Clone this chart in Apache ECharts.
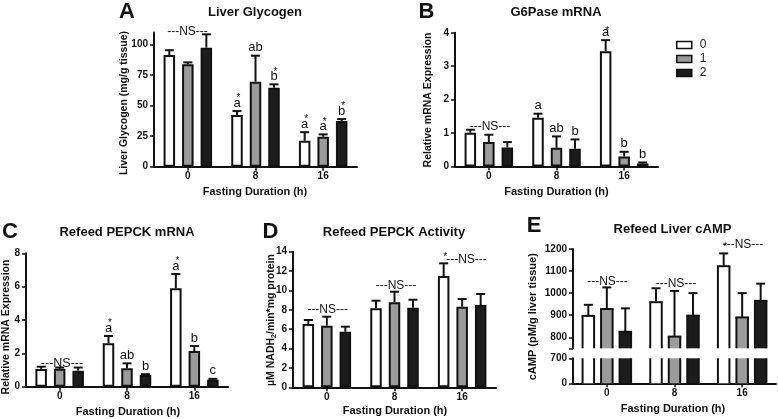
<!DOCTYPE html>
<html><head><meta charset="utf-8">
<script src="https://cdn.jsdelivr.net/npm/echarts@6/dist/echarts.min.js"></script>
<style>html,body{margin:0;padding:0;background:#fff}#c{width:778px;height:419px}</style>
</head><body><div id="c"></div>
<script>
// ---------- DATA ----------
const categories = ['0', '8', '16'];
const groupNames = ['0', '1', '2'];

// A: Liver Glycogen (mg/g tissue)
const glycMean0 = [91.5, 42.4, 21.3], glycErr0 = [4.0, 3.2, 7.0];
const glycMean1 = [83.9, 69.7, 24.6], glycErr1 = [1.6, 21.3, 1.9];
const glycMean2 = [97.5, 64.8, 37.5], glycErr2 = [11.0, 2.7, 1.5];
const glycLetters0 = ['', 'a', 'a'], glycLetters1 = ['', 'ab', 'a'], glycLetters2 = ['', 'b', 'b'];
const glycStars0 = [0, 1, 1], glycStars1 = [0, 0, 1], glycStars2 = [0, 1, 1];
const glycTicks = [0, 25, 50, 75, 100];

// B: G6Pase mRNA
const g6pMean0 = [1.01, 1.46, 3.45], g6pErr0 = [0.09, 0.12, 0.33];
const g6pMean1 = [0.73, 0.56, 0.30], g6pErr1 = [0.22, 0.34, 0.14];
const g6pMean2 = [0.57, 0.53, 0.09], g6pErr2 = [0.16, 0.28, 0.03];
const g6pLetters0 = ['', 'a', 'a'], g6pLetters1 = ['', 'ab', 'b'], g6pLetters2 = ['', 'b', 'b'];
const g6pStars0 = [0, 0, 1], g6pStars1 = [0, 0, 0], g6pStars2 = [0, 0, 0];
const g6pTicks = [0, 1, 2, 3, 4];

// C: Refeed PEPCK mRNA
const pepMean0 = [1.06, 2.60, 5.90], pepErr0 = [0.14, 0.44, 0.86];
const pepMean1 = [1.08, 1.10, 2.14], pepErr1 = [0.07, 0.30, 0.30];
const pepMean2 = [0.96, 0.70, 0.42], pepErr2 = [0.19, 0.05, 0.05];
const pepLetters0 = ['', 'a', 'a'], pepLetters1 = ['', 'ab', 'b'], pepLetters2 = ['', 'b', 'c'];
const pepStars0 = [0, 1, 1], pepStars1 = [0, 0, 0], pepStars2 = [0, 0, 0];
const pepTicks = [0, 2, 4, 6, 8];

// D: Refeed PEPCK Activity
const actMean0 = [6.53, 8.15, 11.49], actErr0 = [0.42, 0.79, 1.31];
const actMean1 = [6.36, 8.77, 8.32], actErr1 = [0.93, 1.10, 0.79];
const actMean2 = [5.74, 8.21, 8.49], actErr2 = [0.52, 0.83, 1.14];
const actStars0 = [0, 0, 1];
const actTicks = [0, 2, 4, 6, 8, 10, 12, 14];

// E: Refeed Liver cAMP
const campMean0 = [897, 959, 1122], campErr0 = [50, 63, 58];
const campMean1 = [928, 803, 890], campErr1 = [98, 207, 110];
const campMean2 = [825, 898, 965], campErr2 = [106, 102, 78];
const campStars0 = [0, 0, 1];
const campTicksUpper = [800, 900, 1000, 1100, 1200];
const campTicksLower = [0, 700];

// ---------- STYLE / LAYOUT ----------
const FONT = '"Liberation Sans", Arial, Helvetica, sans-serif';
const INK = '#111';
const FILLS = ['#ffffff', '#9b9b9b', '#1c1c1c'];
const BAR_W = 11.5, BAR_STEP = 18.5;

function gridBox(left, top, width, height) { return { left, top, width, height, containLabel: false }; }
const grids = [
  gridBox(154, 32.5, 203, 134.2),   // A
  gridBox(455, 32.8, 203, 133.7),   // B
  gridBox(26, 253.3, 202, 133.4),   // C
  gridBox(293, 251.7, 203, 135.6),  // D
  gridBox(573, 249, 203, 99.3),     // E upper
  gridBox(573, 358.3, 203, 25)      // E lower
];

function xAx(g, show) {
  return {
    type: 'category', gridIndex: g, data: categories, show: show !== false,
    axisLine: { show: true, lineStyle: { color: INK, width: 2 } },
    axisTick: { show: true, alignWithLabel: true, length: 4, lineStyle: { color: INK, width: 1.5 } },
    axisLabel: { fontFamily: FONT, fontSize: 10, fontWeight: 'bold', color: INK, margin: 5 },
    splitLine: { show: false }
  };
}
function yAx(g, min, max, labelVals, tickVals) {
  return {
    type: 'value', gridIndex: g, min, max,
    axisLine: { show: true, lineStyle: { color: INK, width: 2 } },
    axisTick: { show: true, length: 4, lineStyle: { color: INK, width: 1.5 }, customValues: tickVals || labelVals },
    axisLabel: { fontFamily: FONT, fontSize: 10, fontWeight: 'bold', color: INK, margin: 6, customValues: labelVals,
      formatter: v => String(v) },
    splitLine: { show: false }
  };
}

function barSeries(g, k, means) {
  return {
    type: 'bar', name: groupNames[k], xAxisIndex: g, yAxisIndex: g, data: means,
    barWidth: BAR_W, barGap: ((BAR_STEP - BAR_W) / BAR_W * 100).toFixed(1) + '%',
    itemStyle: { color: FILLS[k], borderColor: INK, borderWidth: 2 },
    emphasis: { disabled: true }, silent: true
  };
}

function errSeries(g, k, means, errs, letters, stars, starGap) {
  return {
    type: 'custom', xAxisIndex: g, yAxisIndex: g, z: 5, silent: true,
    data: means.map((m, i) => [i, m, errs[i]]),
    renderItem(params, api) {
      const i = api.value(0), m = api.value(1), e = api.value(2);
      const b = api.coord([i, m]), t = api.coord([i, m + e]);
      const x = b[0] + (k - 1) * BAR_STEP;
      const ch = [
        { type: 'line', shape: { x1: x, y1: b[1], x2: x, y2: t[1] }, style: { stroke: INK, lineWidth: 2 } },
        { type: 'line', shape: { x1: x - 4.5, y1: t[1], x2: x + 4.5, y2: t[1] }, style: { stroke: INK, lineWidth: 2 } }
      ];
      const L = letters ? letters[params.dataIndex] : '';
      const S = stars ? stars[params.dataIndex] : 0;
      const ly = t[1] - 1.5;
      if (L) ch.push({ type: 'text', x: x, y: ly, style: { text: L, font: '13px ' + FONT, fill: INK, align: 'center', verticalAlign: 'bottom' } });
      if (S) ch.push({ type: 'text', x: x + 1.5, y: L ? ly - starGap : t[1] - 1, style: { text: '*', font: '10px ' + FONT, fill: INK, align: 'center', verticalAlign: 'bottom' } });
      return { type: 'group', children: ch };
    }
  };
}

// bars for the broken axis panel: fill + side borders, clipped to each grid without a stroke at the cut
function brokenBarSeries(g, k, means) {
  return {
    type: 'custom', xAxisIndex: g, yAxisIndex: g, z: 3, silent: true,
    data: means.map((m, i) => [i, m]),
    renderItem(params, api) {
      const cs = params.coordSys;
      const i = api.value(0), v = api.value(1);
      const p0 = api.coord([i, 0]), p1 = api.coord([i, v]);
      const xc = p1[0] + (k - 1) * BAR_STEP, h = BAR_W / 2;
      const yTop = Math.max(p1[1], cs.y), yBot = Math.min(p0[1], cs.y + cs.height);
      if (yTop >= yBot) return null;
      const ch = [
        { type: 'rect', shape: { x: xc - h, y: yTop, width: BAR_W, height: yBot - yTop }, style: { fill: FILLS[k] } },
        { type: 'line', shape: { x1: xc - h, y1: yTop, x2: xc - h, y2: yBot }, style: { stroke: INK, lineWidth: 2 } },
        { type: 'line', shape: { x1: xc + h, y1: yTop, x2: xc + h, y2: yBot }, style: { stroke: INK, lineWidth: 2 } }
      ];
      if (p1[1] >= cs.y && p1[1] <= cs.y + cs.height) ch.push({ type: 'line', shape: { x1: xc - h - 1, y1: p1[1], x2: xc + h + 1, y2: p1[1] }, style: { stroke: INK, lineWidth: 2 } });
      return { type: 'group', children: ch };
    }
  };
}

const series = [
  barSeries(0, 0, glycMean0), barSeries(0, 1, glycMean1), barSeries(0, 2, glycMean2),
  errSeries(0, 0, glycMean0, glycErr0, glycLetters0, glycStars0, 6),
  errSeries(0, 1, glycMean1, glycErr1, glycLetters1, glycStars1, 6),
  errSeries(0, 2, glycMean2, glycErr2, glycLetters2, glycStars2, 6),

  barSeries(1, 0, g6pMean0), barSeries(1, 1, g6pMean1), barSeries(1, 2, g6pMean2),
  errSeries(1, 0, g6pMean0, g6pErr0, g6pLetters0, g6pStars0, 2),
  errSeries(1, 1, g6pMean1, g6pErr1, g6pLetters1, g6pStars1, 2),
  errSeries(1, 2, g6pMean2, g6pErr2, g6pLetters2, g6pStars2, 2),

  barSeries(2, 0, pepMean0), barSeries(2, 1, pepMean1), barSeries(2, 2, pepMean2),
  errSeries(2, 0, pepMean0, pepErr0, pepLetters0, pepStars0, 6),
  errSeries(2, 1, pepMean1, pepErr1, pepLetters1, pepStars1, 6),
  errSeries(2, 2, pepMean2, pepErr2, pepLetters2, pepStars2, 6),

  barSeries(3, 0, actMean0), barSeries(3, 1, actMean1), barSeries(3, 2, actMean2),
  errSeries(3, 0, actMean0, actErr0, null, actStars0, 6),
  errSeries(3, 1, actMean1, actErr1, null, null, 6),
  errSeries(3, 2, actMean2, actErr2, null, null, 6),

  brokenBarSeries(4, 0, campMean0), brokenBarSeries(4, 1, campMean1), brokenBarSeries(4, 2, campMean2),
  brokenBarSeries(5, 0, campMean0), brokenBarSeries(5, 1, campMean1), brokenBarSeries(5, 2, campMean2),
  errSeries(4, 0, campMean0, campErr0, null, campStars0, 6),
  errSeries(4, 1, campMean1, campErr1, null, null, 6),
  errSeries(4, 2, campMean2, campErr2, null, null, 6)
];

function txt(x, y, text, font, rot) {
  return { type: 'text', x, y, rotation: rot || 0, silent: true,
    style: { text, font, fill: INK, align: 'center', verticalAlign: 'middle' } };
}
const BIGF = 'bold 22px ' + FONT, TITF = 'bold 13px ' + FONT, XTF = 'bold 11px ' + FONT, YTF = 'bold 10.5px ' + FONT, NSF = '12px ' + FONT;
const R = Math.PI / 2;
const graphics = [
  txt(127, 12, 'A', BIGF), txt(255, 12, 'Liver Glycogen', TITF),
  txt(426.5, 12, 'B', BIGF), txt(556, 12, 'G6Pase mRNA', TITF),
  txt(10, 232, 'C', BIGF), txt(127, 232.5, 'Refeed PEPCK mRNA', TITF),
  txt(270.5, 232, 'D', BIGF), txt(394, 232, 'Refeed PEPCK Activity', TITF),
  txt(534, 225.5, 'E', BIGF), txt(672.5, 229.5, 'Refeed Liver cAMP', TITF),
  txt(255, 192.3, 'Fasting Duration (h)', XTF), txt(556.5, 192.3, 'Fasting Duration (h)', XTF),
  txt(128, 411.5, 'Fasting Duration (h)', XTF), txt(395, 411, 'Fasting Duration (h)', XTF),
  txt(673, 409.3, 'Fasting Duration (h)', XTF),
  txt(124, 103, 'Liver Glycogen (mg/g tissue)', YTF, R),
  txt(428.3, 100, 'Relative mRNA Expression', YTF, R),
  txt(6.5, 327, 'Relative mRNA Expression', YTF, R),
  { type: 'text', x: 271, y: 320, rotation: R, silent: true,
    style: { text: '{a|µM NADH}{s|2}{a|/min*mg protein}', align: 'center', verticalAlign: 'middle', fill: INK,
      rich: { a: { font: YTF, fill: INK }, s: { font: 'bold 7px ' + FONT, fill: INK, padding: [6, 0, 0, 0] } } } },
  txt(533, 316.7, 'cAMP (pM/g liver tissue)', 'bold 11px ' + FONT, R),
  // NS annotations
  txt(187.5, 31.7, '---NS---', NSF),
  txt(490, 126.7, '---NS---', NSF),
  txt(62, 363.3, '---NS---', '12.5px ' + FONT),
  txt(327.7, 309.3, '---NS---', NSF), txt(396, 286, '---NS---', NSF), txt(466.5, 260, '---NS---', NSF),
  txt(607.5, 281.7, '---NS---', NSF), txt(676, 283.3, '---NS---', NSF), txt(743, 245, '---NS---', NSF)
];

const chart = echarts.init(document.getElementById('c'), null, { renderer: 'canvas' });
chart.setOption({
  backgroundColor: '#fff',
  animation: false,
  grid: grids,
  xAxis: [xAx(0), xAx(1), xAx(2), xAx(3), xAx(4, false), xAx(5)],
  yAxis: [
    yAx(0, 0, 110, glycTicks),
    yAx(1, 0, 4, g6pTicks),
    yAx(2, 0, 8, pepTicks),
    yAx(3, 0, 14, actTicks),
    yAx(4, 750, 1200, campTicksUpper, [750].concat(campTicksUpper)),
    yAx(5, 0, 700, campTicksLower)
  ],
  legend: {
    data: groupNames.map(n => ({ name: n, icon: 'rect' })),
    orient: 'vertical', left: 671, top: 34, itemWidth: 15, itemHeight: 7, itemGap: 2,
    itemStyle: { borderColor: INK, borderWidth: 1.5 },
    textStyle: { fontFamily: FONT, fontSize: 12, color: '#222', padding: [0, 0, 0, 3] },
    selectedMode: false
  },
  graphic: graphics,
  series
});
</script>
</body></html>
